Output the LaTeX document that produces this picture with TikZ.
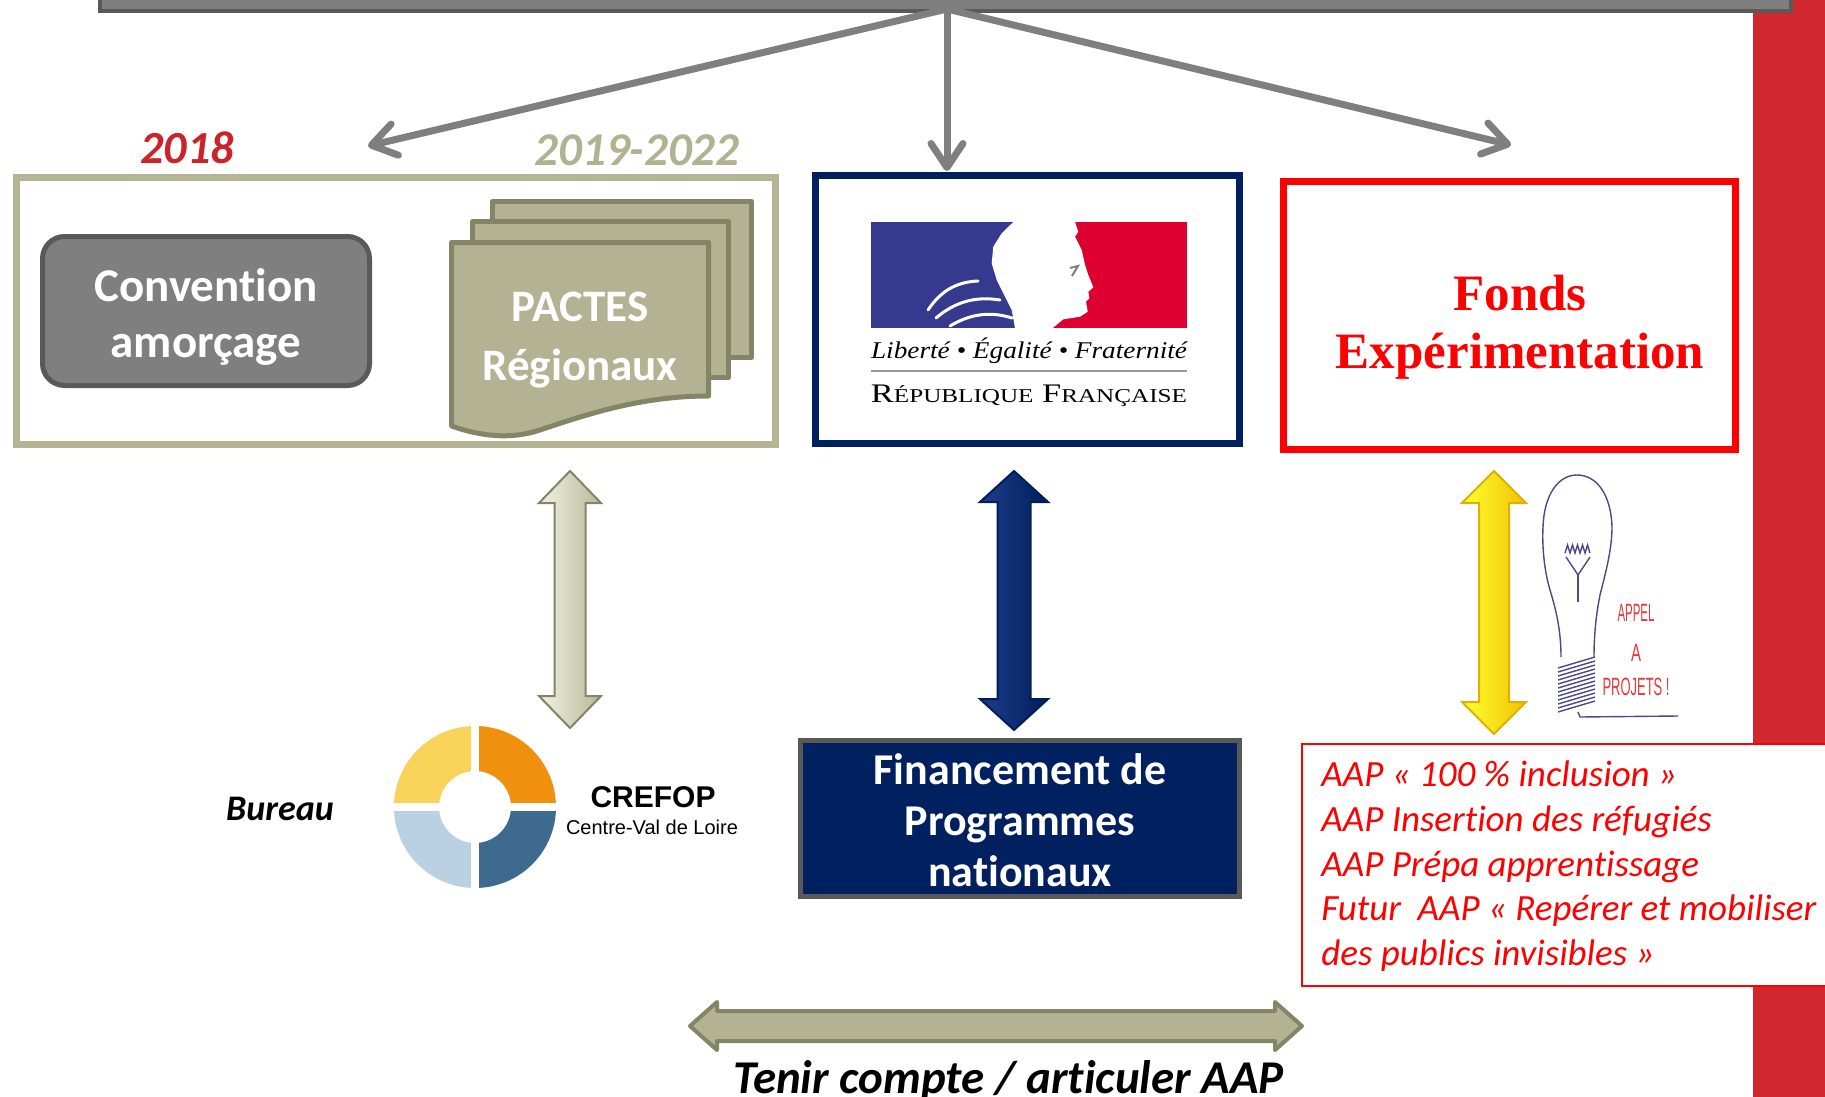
\documentclass[tikz,border=0pt]{standalone}
\usepackage{fontspec}
\usepackage{graphicx}
\setmainfont{Carlito}[Ligatures=NoCommon]
\newfontfamily\timesf{Liberation Serif}
\newfontfamily\arialf{Liberation Sans}
\usetikzlibrary{arrows.meta}
\definecolor{grayF}{HTML}{7F7F7F}
\definecolor{grayD}{HTML}{595959}
\definecolor{tanB}{HTML}{B5B595}
\definecolor{tanF}{HTML}{B3B394}
\definecolor{tanD}{HTML}{848466}
\definecolor{tanL}{HTML}{F2F2E2}
\definecolor{tanR}{HTML}{B8B898}
\definecolor{tanY}{HTML}{B2B292}
\definecolor{navy}{HTML}{002060}
\definecolor{navyL}{HTML}{1E3C8C}
\definecolor{navyR}{HTML}{001E5A}
\definecolor{yelL}{HTML}{FFFF33}
\definecolor{yelR}{HTML}{F2C200}
\definecolor{yelD}{HTML}{E0B000}
\definecolor{barred}{HTML}{D0282E}
\definecolor{yearred}{HTML}{CC2229}
\definecolor{flagblue}{HTML}{363A8E}
\definecolor{flagred}{HTML}{DD0030}
\definecolor{cyel}{HTML}{F9D25A}
\definecolor{corange}{HTML}{F18F0F}
\definecolor{clblue}{HTML}{B9D1E3}
\definecolor{cdblue}{HTML}{3D6A8E}
\definecolor{bulbc}{HTML}{4A4A8A}
\definecolor{bulbred}{HTML}{E8383C}
\pgfdeclareradialshading{bgshade}{\pgfpoint{0bp}{0bp}}{color(0bp)=(white); color(26bp)=(white); color(50bp)=(black!18)}
\begin{document}
\begin{tikzpicture}[x=0.5pt,y=-0.5pt,
  box/.style={inner sep=0pt, outer sep=0pt},
  toparrow/.style={draw=grayF, line width=3.5pt, line cap=round, -{Straight Barb[length=12pt,width=16pt,round]}},
  sheet/.style={fill=tanF, draw=tanD, line width=2.5pt, line join=round},
  fat/.style={line width=1pt, line join=miter},
  wtxt/.style={text=white, font=\bfseries\fontsize{22.5pt}{29.5pt}\selectfont, align=center},
  aapline/.style={anchor=base west, inner sep=0pt, text=red, font=\itshape\fontsize{18.5pt}{22pt}\selectfont},
]
\useasboundingbox (0,0) rectangle (1825,1097);
% background
\fill[black!18] (0,0) rectangle (1825,1097);
\shade[shading=bgshade] (800,300) circle[radius=625pt];
\fill[barred] (1753,0) rectangle (1825,1097);

% top bar and arrows
\node[box, draw=grayD, fill=grayF, line width=2pt, minimum width=845.5pt, minimum height=20.5pt] (topbar) at (945.5,-9.5) {};
\coordinate (hub) at (947,9);
\coordinate (tipL) at (368,146);
\coordinate (tipM) at (947,171);
\coordinate (tipR) at (1511,145);
\draw[toparrow] (hub) -- (tipL);
\draw[toparrow] (hub) -- (tipM);
\draw[toparrow] (hub) -- (tipR);

% years
\node[text=yearred, font=\bfseries\itshape\fontsize{23pt}{28pt}\selectfont] (y2018) at (187,148) {2018};
\node[text=tanY, font=\bfseries\itshape\fontsize{23.5pt}{28pt}\selectfont] (y2019) at (637,150) {2019-2022};

% left box
\node[box, draw=tanB, line width=3.5pt, fill=white, minimum width=379.5pt, minimum height=133.5pt] (leftbox) at (396,311) {};
\node[box, draw=grayD, fill=grayF, line width=2.5pt, rounded corners=11pt, minimum width=163.5pt, minimum height=74.5pt] (conv) at (206,311) {};
\node[wtxt, font=\bfseries\fontsize{23.5pt}{28pt}\selectfont] (convt) at (206,317) {Convention\\amorçage};
\filldraw[sheet] (492.5,201.5) rectangle (751.5,357.5);
\filldraw[sheet] (472.5,221.5) rectangle (728.5,377.5);
\filldraw[sheet] (451.5,242.5) -- (708.5,242.5) -- (708.5,396) .. controls (640,396) and (585,415) .. (540,430) .. controls (510,440) and (480,436) .. (451.5,426) -- cycle;
\node[wtxt] (pactes) at (580,340) {PACTES\\Régionaux};

% republique box
\node[box, draw=navy, line width=3.5pt, fill=white, minimum width=212pt, minimum height=134pt] (rep) at (1027.5,309.5) {};
\fill[flagblue] (871,222) rectangle (1045,328);
\fill[flagred] (1045,222) rectangle (1187,328);
\fill[white] (1013.3,222) -- (1075,222) -- (1078.3,231.7) -- (1075,236.7) -- (1081.7,250) -- (1085,265) -- (1088.3,275) -- (1093.3,287.3) -- (1088.3,291.7) -- (1089.3,298.3) -- (1086,301.7) -- (1087.7,311.7) -- (1080,316.7) -- (1063.3,319.3) -- (1052.7,328) -- (1015,328) -- (1011.7,310) -- (1003.3,293.3) -- (996.7,280) -- (991.7,263.3) -- (993.3,246.7) -- (1001.7,233.3) -- cycle;
\draw[white, line width=1.5pt, line cap=round] (928,310) .. controls (940,292) and (955,282) .. (978,281);
\draw[white, line width=1.5pt, line cap=round] (936,318) .. controls (955,302) and (975,296) .. (1000,300);
\draw[white, line width=1.5pt, line cap=round] (950,326) .. controls (970,314) and (990,311) .. (1012,318);
\draw[gray, line width=1pt] (1070,268) -- (1078,266) -- (1072,276);
\node[anchor=base, inner sep=0pt] (devise) at (1029,358) {\resizebox{158pt}{\height}{\timesf\itshape\fontsize{12pt}{14pt}\selectfont Liberté • Égalité • Fraternité}};
\draw[gray!80, line width=1pt] (871,371) -- (1187,371);
\node[anchor=base, inner sep=0pt] (repf) at (1029,402.7) {\resizebox{158pt}{\height}{\timesf\fontsize{13.4pt}{15pt}\selectfont R{\fontsize{9.8pt}{12pt}\selectfont ÉPUBLIQUE} F{\fontsize{9.8pt}{12pt}\selectfont RANÇAISE}}};

% fonds box
\node[box, draw=red, line width=3.5pt, fill=white, minimum width=226pt, minimum height=134pt] (fonds) at (1509.5,315.5) {};
\node[text=red, font=\timesf\bfseries\fontsize{25.5pt}{29pt}\selectfont, align=center] (fondst) at (1520,327) {Fonds\\Expérimentation};

% vertical double arrows
\coordinate (tanT) at (570,471);
\filldraw[fat, draw=tanD, left color=tanL, right color=tanR] (tanT) -- ++(31,32) -- ++(-15.5,0) -- ++(0,193) -- ++(15.5,0) -- ++(-31,32) -- ++(-31,-32) -- ++(15.5,0) -- ++(0,-193) -- ++(-15.5,0) -- cycle;
\coordinate (navT) at (1014,471);
\filldraw[fat, draw=navyR, left color=navyL, right color=navyR] (navT) -- ++(34,31) -- ++(-17.5,0) -- ++(0,197) -- ++(17.5,0) -- ++(-34,31) -- ++(-34,-31) -- ++(17.5,0) -- ++(0,-197) -- ++(-17.5,0) -- cycle;
\coordinate (yelT) at (1494,471);
\filldraw[fat, draw=yelD, left color=yelL, right color=yelR] (yelT) -- ++(32,32) -- ++(-17,0) -- ++(0,199) -- ++(17,0) -- ++(-32,32) -- ++(-32,-32) -- ++(17,0) -- ++(0,-199) -- ++(-17,0) -- cycle;

% bulb picture
\fill[white] (1535,470) rectangle (1700,738);
\begin{scope}[color=bulbc, line width=0.7pt]
\draw (1561,657) .. controls (1561,630) and (1556,610) .. (1550,590) .. controls (1544,570) and (1542,545) .. (1543,527) .. controls (1544,495) and (1558,475) .. (1577,475) .. controls (1597,475) and (1611,495) .. (1612,527) .. controls (1612,550) and (1605,575) .. (1600,595) .. controls (1596,615) and (1594,635) .. (1594,657);
\foreach \i in {0,...,11} \draw (1558,{668+4*\i}) -- (1595,{657+4*\i});
\draw (1565,553) -- (1567.5,545) -- (1570,553) -- (1572.5,545) -- (1575,553) -- (1577.5,545) -- (1580,553) -- (1582.5,545) -- (1585,553) -- (1587.5,545) -- (1590,553);
\draw (1566,557) -- (1578,575) -- (1590,557);
\draw (1578,575) -- (1578,602);
\draw (1578,712) -- (1580,717) -- (1678,716);
\end{scope}
\node[inner sep=0pt, text=bulbred] (appel) at (1636,613) {\resizebox{18.5pt}{\height}{\arialf\fontsize{12.5pt}{14pt}\selectfont APPEL}};
\node[inner sep=0pt, text=bulbred] (appa) at (1636,653) {\resizebox{5pt}{\height}{\arialf\fontsize{12.5pt}{14pt}\selectfont A}};
\node[inner sep=0pt, text=bulbred] (projets) at (1636,687) {\resizebox{33.5pt}{\height}{\arialf\fontsize{12.5pt}{14pt}\selectfont PROJETS !}};

% CREFOP logo
\coordinate (logo) at (475,807);
\fill[cyel] (logo) ++(90:40.5pt) arc[start angle=90,end angle=180,radius=40.5pt] -- ++(22.5pt,0) arc[start angle=180,end angle=90,radius=18pt] -- cycle;
\fill[corange] (logo) ++(0:40.5pt) arc[start angle=0,end angle=90,radius=40.5pt] -- ++(0,-22.5pt) arc[start angle=90,end angle=0,radius=18pt] -- cycle;
\fill[clblue] (logo) ++(180:40.5pt) arc[start angle=180,end angle=270,radius=40.5pt] -- ++(0,22.5pt) arc[start angle=270,end angle=180,radius=18pt] -- cycle;
\fill[cdblue] (logo) ++(270:40.5pt) arc[start angle=270,end angle=360,radius=40.5pt] -- ++(-22.5pt,0) arc[start angle=0,end angle=-90,radius=18pt] -- cycle;
\draw[white, line width=4pt] (logo) ++(-42pt,0) -- ++(84pt,0);
\draw[white, line width=4pt] (logo) ++(0,-42pt) -- ++(0,84pt);
\node[font=\arialf\bfseries\fontsize{15pt}{17pt}\selectfont] (crefop) at (653,797) {CREFOP};
\node[font=\arialf\fontsize{10pt}{12pt}\selectfont] (cvl) at (652,827) {Centre-Val de Loire};
\node[font=\bfseries\itshape\fontsize{18pt}{22pt}\selectfont] (bureau) at (280,809) {Bureau};

% financement
\node[box, draw=grayD, fill=navy, line width=2.5pt, minimum width=219.5pt, minimum height=78pt] (fin) at (1020,818.5) {};
\node[wtxt, font=\bfseries\fontsize{22pt}{25.5pt}\selectfont] (fint) at (1020,820) {Financement de\\Programmes\\nationaux};

% AAP box
\node[box, draw=red, line width=1.25pt, fill=white, minimum width=264pt, minimum height=121pt] (aap) at (1566,865) {};
\node[aapline] (aap1) at (1321,786.7) {AAP « 100 \% inclusion »};
\node[aapline] (aap2) at (1321,831.7) {AAP Insertion des réfugiés};
\node[aapline] (aap3) at (1321,876) {AAP Prépa apprentissage};
\node[aapline] (aap4) at (1321,920) {Futur~ AAP « Repérer et mobiliser};
\node[aapline] (aap5) at (1321,965) {des publics invisibles »};

% bottom arrow
\coordinate (horL) at (690,1026);
\filldraw[fill=tanF, draw=tanD, line width=2pt, line join=round] (horL) -- ++(27,-24) -- ++(0,9) -- ++(558,0) -- ++(0,-9) -- ++(27,24) -- ++(-27,24) -- ++(0,-9) -- ++(-558,0) -- ++(0,9) -- cycle;
\node[anchor=base west, inner sep=0pt, font=\bfseries\itshape\fontsize{23.5pt}{28pt}\selectfont] (tenir) at (733,1093) {Tenir compte / articuler AAP};
\end{tikzpicture}
\end{document}
